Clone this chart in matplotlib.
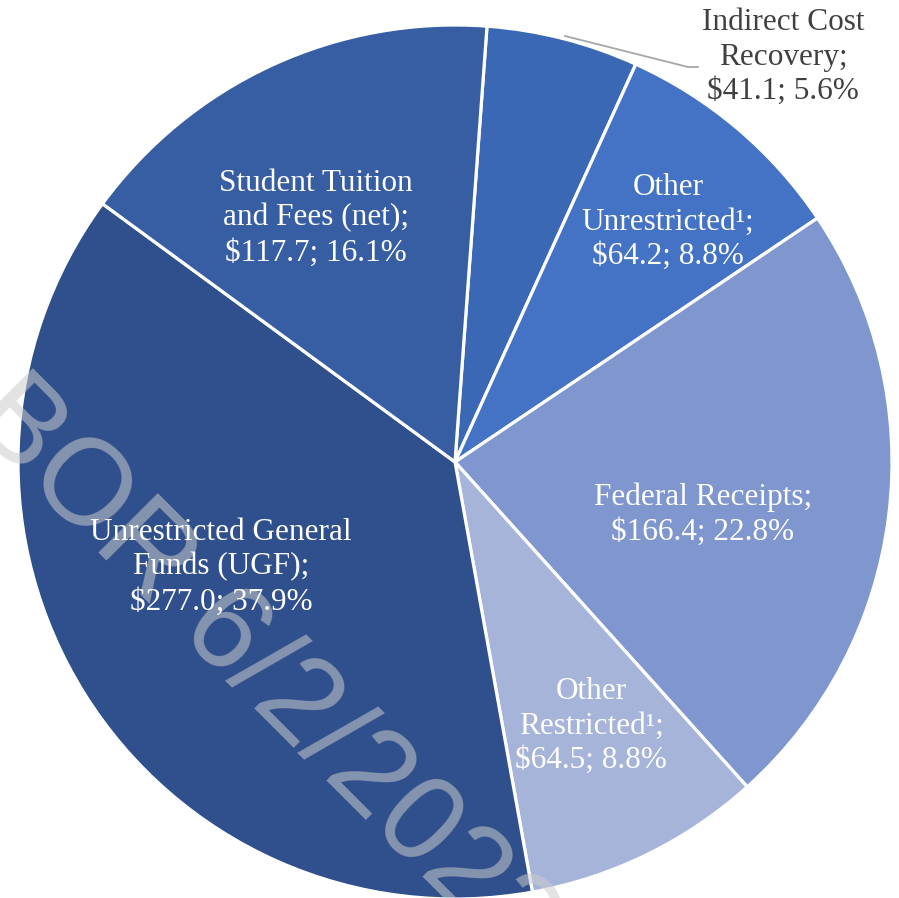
import numpy as np
import matplotlib
matplotlib.use('Agg')
import matplotlib.pyplot as plt

# slices, clockwise from the top
labels = ['Indirect Cost\nRecovery;\n$41.1; 5.6%',
          'Other\nUnrestricted\u00b9;\n$64.2; 8.8%',
          'Federal Receipts;\n$166.4; 22.8%',
          'Other\nRestricted\u00b9;\n$64.5; 8.8%',
          'Unrestricted General\nFunds (UGF);\n$277.0; 37.9%',
          'Student Tuition\nand Fees (net);\n$117.7; 16.1%']
values = [41.1, 64.2, 166.4, 64.5, 277.0, 117.7]
colors = ['#3B68B4', '#4472C4', '#7F97CE', '#A6B4DA', '#2F508C', '#375EA3']

# label centres in pixel coords (x, y from top)
label_pos = [(783, 57), (668, 222), (703, 515), (591, 726), (221, 567), (316, 218)]

W, H = 899, 898
fig = plt.figure(figsize=(W / 100, H / 100), dpi=100)
ax = fig.add_axes([0, 0, 1, 1])

cx, cy, r = 455, H - 462, 437
wedges, _ = ax.pie(values, colors=colors, startangle=85.8, counterclock=False,
                   radius=r, center=(cx, cy),
                   wedgeprops=dict(edgecolor='white', linewidth=2.3))

ax.set_xlim(0, W)
ax.set_ylim(0, H)
ax.set_aspect('equal')
ax.axis('off')

# watermark
ax.text(-12, H - 398, 'BOR 6/2/2023', rotation=-45, rotation_mode='anchor',
        ha='left', va='center', fontsize=88, family='Liberation Sans',
        color='#cccccc', alpha=0.55, zorder=5)

for i, (lab, (px, py)) in enumerate(zip(labels, label_pos)):
    col = '#404040' if i == 0 else 'white'
    ax.text(px, H - py, lab, ha='center', va='center', fontsize=22.5,
            family='Liberation Serif', color=col, linespacing=1.26, zorder=6)

# leader line for the small slice
ax.plot([565, 688, 698], [H - 36, H - 67, H - 67], color='#a6a6a6', lw=1.3, zorder=6)

plt.savefig('out.png', dpi=100)
